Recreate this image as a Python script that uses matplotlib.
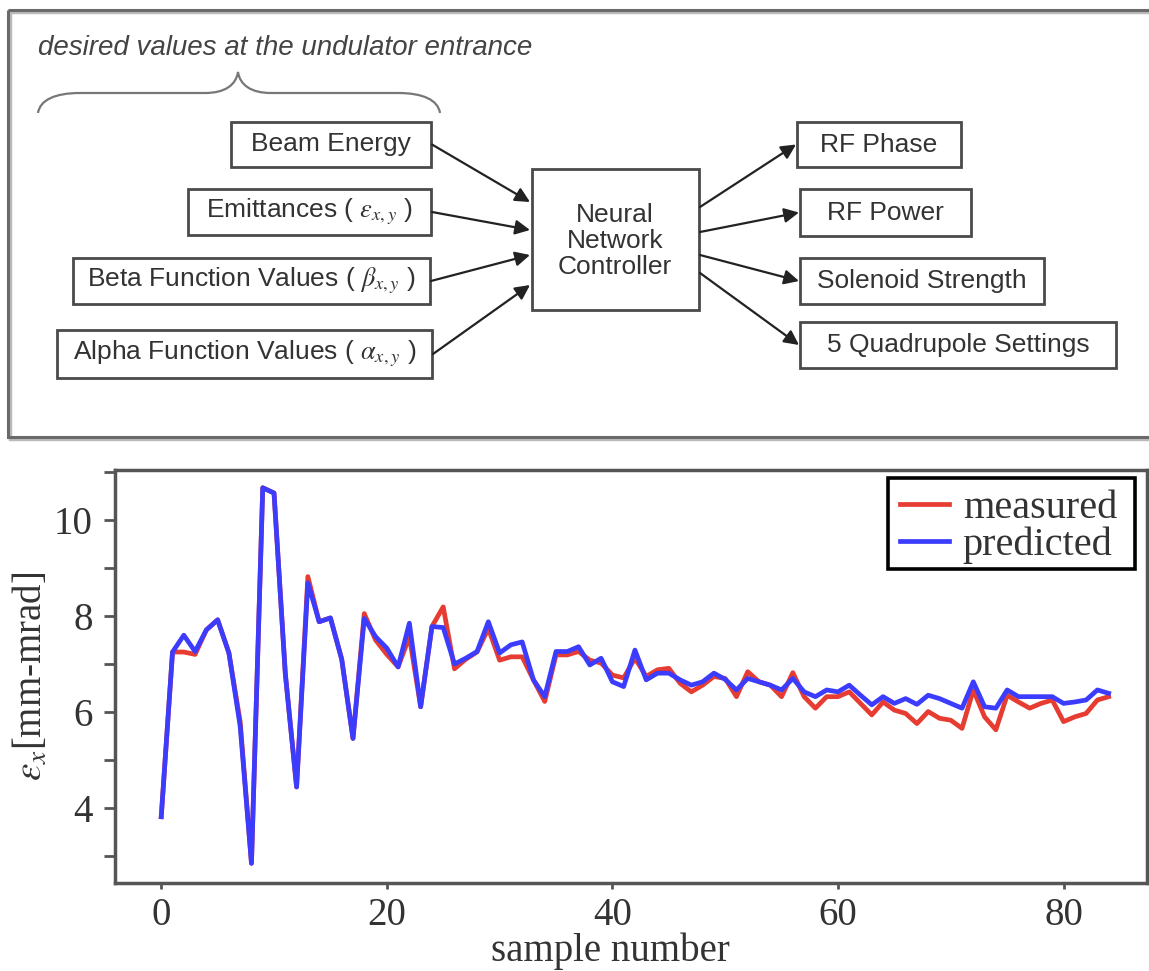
import matplotlib
matplotlib.use("Agg")
import matplotlib.pyplot as plt
from matplotlib.patches import Rectangle, PathPatch
from matplotlib.path import Path
from matplotlib.ticker import MultipleLocator

plt.rcParams['mathtext.fontset'] = 'stix'

# ---------------- data ----------------
sample_number = list(range(85))
measured = [3.82, 7.25, 7.25, 7.20, 7.71, 7.92, 7.23, 5.80, 2.85, 10.67,
            10.56, 6.80, 4.44, 8.82, 7.88, 7.96, 7.10, 5.45, 8.05, 7.50,
            7.20, 6.94, 7.57, 6.11, 7.78, 8.19, 6.90, 7.10, 7.25, 7.74,
            7.08, 7.15, 7.15, 6.67, 6.22, 7.19, 7.19, 7.26, 7.08, 7.02,
            6.77, 6.71, 7.12, 6.74, 6.88, 6.91, 6.60, 6.42, 6.56, 6.74,
            6.70, 6.32, 6.84, 6.63, 6.56, 6.32, 6.82, 6.32, 6.08, 6.32,
            6.32, 6.42, 6.18, 5.94, 6.21, 6.04, 5.97, 5.76, 6.01, 5.87,
            5.83, 5.66, 6.46, 5.90, 5.63, 6.35, 6.21, 6.08, 6.18, 6.25,
            5.80, 5.90, 5.97, 6.25, 6.32]
predicted = [3.82, 7.25, 7.60, 7.26, 7.71, 7.92, 7.23, 5.70, 2.85, 10.67,
             10.56, 6.80, 4.44, 8.69, 7.88, 7.96, 7.10, 5.45, 7.95, 7.57,
             7.33, 6.94, 7.85, 6.11, 7.78, 7.76, 7.00, 7.12, 7.26, 7.88,
             7.23, 7.40, 7.46, 6.67, 6.32, 7.26, 7.26, 7.36, 6.98, 7.12,
             6.63, 6.53, 7.29, 6.67, 6.81, 6.81, 6.67, 6.56, 6.63, 6.81,
             6.68, 6.46, 6.70, 6.63, 6.56, 6.46, 6.70, 6.42, 6.32, 6.46,
             6.42, 6.56, 6.35, 6.15, 6.32, 6.18, 6.28, 6.16, 6.35, 6.28,
             6.18, 6.08, 6.63, 6.11, 6.08, 6.46, 6.32, 6.32, 6.32, 6.32,
             6.18, 6.21, 6.25, 6.46, 6.39]
series_labels = ['measured', 'predicted']
x_ticks = [0, 20, 40, 60, 80]
y_ticks = [4, 6, 8, 10]

# diagram text
heading = 'desired values at the undulator entrance'
input_labels = ['Beam Energy',
                r'Emittances ( $\varepsilon_{x,y}$ )',
                r'Beta Function Values ( $\beta_{x,y}$ )',
                r'Alpha Function Values ( $\alpha_{x,y}$ )']
controller_label = 'Neural\nNetwork\nController'
output_labels = ['RF Phase', 'RF Power', 'Solenoid Strength',
                 '5 Quadrupole Settings']

# ---------------- figure ----------------
W, H = 1149, 971
fig = plt.figure(figsize=(W / 100, H / 100), dpi=100)

# diagram layer in pixel coordinates
dax = fig.add_axes([0, 0, 1, 1])
dax.set_xlim(0, W)
dax.set_ylim(H, 0)
dax.axis('off')

edge = '#4a4a4a'
txt = '#333333'
sans = 'Liberation Sans'

# outer frame (with a faint shadow line)
dax.add_patch(Rectangle((10, 12), W + 20, 427, fill=False, ec='#bbbbbb', lw=2.5))
dax.add_patch(Rectangle((8, 10), W + 20, 427, fill=False, ec='#6a6a6a', lw=2.2))

dax.text(38, 48, heading, fontsize=20, style='italic', family=sans,
         color='#444444', va='center', ha='left')

# brace
verts = [(38, 113), (40, 100), (55, 93), (80, 93),
         (205, 93), (225, 93), (236, 85), (238, 72),
         (240, 85), (251, 93), (271, 93),
         (398, 93), (423, 93), (438, 100), (440, 113)]
codes = [Path.MOVETO, Path.CURVE4, Path.CURVE4, Path.CURVE4,
         Path.LINETO, Path.CURVE4, Path.CURVE4, Path.CURVE4,
         Path.CURVE4, Path.CURVE4, Path.CURVE4,
         Path.LINETO, Path.CURVE4, Path.CURVE4, Path.CURVE4]
dax.add_patch(PathPatch(Path(verts, codes), fill=False, ec='#777777', lw=1.6))

# input boxes (x0, x1, y0, y1)
in_boxes = [(231, 431, 122, 167), (188, 431, 189, 235),
            (73, 430, 258, 304), (57, 432, 330, 378)]
in_arrow_end = [202, 230, 255, 285]
for lab, (x0, x1, y0, y1), ye in zip(input_labels, in_boxes, in_arrow_end):
    dax.add_patch(Rectangle((x0, y0), x1 - x0, y1 - y0, fill=False, ec=edge, lw=2))
    dax.text((x0 + x1) / 2, (y0 + y1) / 2, lab, fontsize=19, family=sans,
             color=txt, ha='center', va='center')
    dax.annotate('', xy=(530, ye), xytext=(x1 + 1, (y0 + y1) / 2),
                 arrowprops=dict(arrowstyle='-|>', color='#222222', lw=1.6,
                                 mutation_scale=22, shrinkA=0, shrinkB=0))

# controller
dax.add_patch(Rectangle((532, 169), 167, 141, fill=False, ec=edge, lw=2))
dax.text(615, 241, controller_label, fontsize=19, family=sans, color=txt,
         ha='center', va='center', linespacing=1.1)

# output boxes
out_boxes = [(797, 961, 122, 167), (800, 971, 189, 236),
             (800, 1044, 258, 304), (800, 1116, 322, 368)]
out_arrow_start = [207, 232, 255, 273]
for lab, (x0, x1, y0, y1), ys in zip(output_labels, out_boxes, out_arrow_start):
    dax.add_patch(Rectangle((x0, y0), x1 - x0, y1 - y0, fill=False, ec=edge, lw=2))
    dax.text((x0 + x1) / 2, (y0 + y1) / 2, lab, fontsize=19, family=sans,
             color=txt, ha='center', va='center')
    dax.annotate('', xy=(x0 - 1, (y0 + y1) / 2), xytext=(700, ys),
                 arrowprops=dict(arrowstyle='-|>', color='#222222', lw=1.6,
                                 mutation_scale=22, shrinkA=0, shrinkB=0))

# ---------------- line plot ----------------
ax = fig.add_axes([115 / W, 88 / H, 1032 / W, 413 / H])
serif = 'Liberation Serif'
ax.plot(sample_number, measured, color='#e63c32', lw=3.4, label=series_labels[0])
ax.plot(sample_number, predicted, color='#3c3cff', lw=3.4, label=series_labels[1])
ax.set_xlim(-4.1, 87.4)
ax.set_ylim(2.44, 11.04)
ax.set_xticks(x_ticks)
ax.set_yticks(y_ticks)
ax.yaxis.set_minor_locator(MultipleLocator(1))
for s in ax.spines.values():
    s.set_color('#555555')
    s.set_linewidth(2.5)
ax.tick_params(axis='y', which='both', direction='out', length=8, width=2,
               color='#555555', labelsize=28, labelcolor='#333333', pad=8)
ax.tick_params(axis='x', which='both', direction='out', length=4, width=2,
               color='#555555', labelsize=28, labelcolor='#333333', pad=6)
ax.tick_params(right=False, top=False)
for lab in ax.get_xticklabels() + ax.get_yticklabels():
    lab.set_family(serif)
ax.set_xlabel('sample number', fontsize=28, family=serif, color='#333333')
ax.xaxis.set_label_coords(0.48, -0.12)
ax.set_ylabel(r'$\varepsilon_x$[mm-mrad]', fontsize=28, family=serif,
              color='#333333', labelpad=2)

# legend (frame drawn separately so horizontal and vertical padding differ)
leg = ax.legend(loc='upper right', bbox_to_anchor=(0.971, 0.953),
                prop={'family': serif, 'size': 29}, frameon=False,
                handlelength=1.2, handletextpad=0.35, labelspacing=0.0,
                borderpad=0.0, borderaxespad=0.0)
for t in leg.get_texts():
    t.set_color('#333333')
ax.add_patch(Rectangle((0.749, 0.760), 0.239, 0.221, transform=ax.transAxes,
                       fill=False, ec='black', lw=2.6, zorder=6, clip_on=False))

fig.savefig('out.png', dpi=100)
